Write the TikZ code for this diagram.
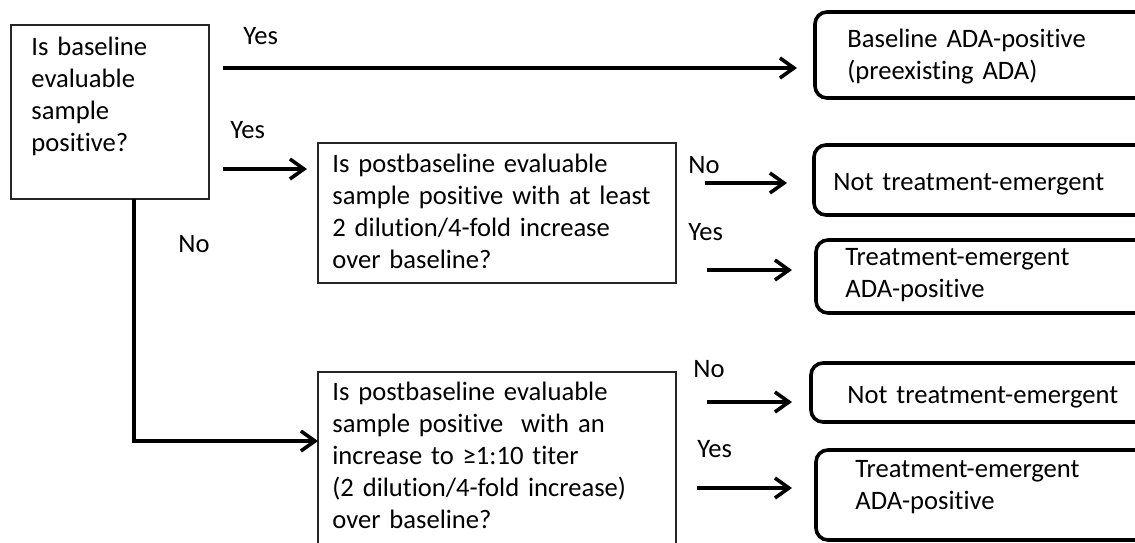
\documentclass[tikz,border=0pt]{standalone}
\usepackage{fontspec}
\setmainfont{Carlito}[Ligatures=NoCommon]
\usetikzlibrary{arrows.meta}
\begin{document}
\begin{tikzpicture}[x=0.5pt,y=-0.5pt,
  qbox/.style={draw=black!85, line width=0.85pt, inner sep=0pt, outer sep=0pt, anchor=north west},
  rbox/.style={draw=black, line width=1.8pt, rounded corners=6pt, inner sep=0pt, outer sep=0pt, anchor=north west},
  txt/.style={anchor=base west, inner sep=0pt, text width=220pt, align=left, font=\fontsize{13.3}{16}\selectfont},
  lbl/.style={anchor=base west, inner sep=0pt, font=\fontsize{13.3}{16}\selectfont},
  arr/.style={line width=1.8pt, -{Straight Barb[length=7pt,width=10pt]}}]
\clip (0,0) rectangle (1135,542);
\fill[white] (0,0) rectangle (1135,542);
% question boxes
\node[qbox, minimum width=99pt, minimum height=87pt] (b1) at (11,25) {};
\node[qbox, minimum width=179pt, minimum height=70pt] (b2) at (318,143) {};
\node[qbox, minimum width=179pt, minimum height=100pt] (b3) at (318,372) {};
% result boxes
\node[rbox, minimum width=170pt, minimum height=43pt] (r1) at (815,12) {};
\node[rbox, minimum width=170pt, minimum height=35pt] (r2) at (814,145) {};
\node[rbox, minimum width=170pt, minimum height=36.5pt] (r3) at (816,240) {};
\node[rbox, minimum width=170pt, minimum height=29.5pt] (r4) at (811,363) {};
\node[rbox, minimum width=170pt, minimum height=45pt] (r5) at (816,450) {};
% texts
\node[txt] (t1) at (31,55) {Is baseline\\evaluable\\sample\\positive?};
\node[txt] (t2) at (332,172) {Is postbaseline evaluable\\sample positive with at least\\2 dilution/4-fold increase\\over baseline?};
\node[txt] (t3) at (332,400) {Is postbaseline evaluable\\sample positive\ \ with an\\increase to ≥1:10 titer\\(2 dilution/4-fold increase)\\over baseline?};
\node[txt] (tr1) at (847,47) {Baseline ADA-positive\\(preexisting ADA)};
\node[txt] (tr2) at (833,190) {Not treatment-emergent};
\node[txt] (tr3) at (845,265) {Treatment-emergent\\ADA-positive};
\node[txt] (tr4) at (847,403) {Not treatment-emergent};
\node[txt] (tr5) at (855,477) {Treatment-emergent\\ADA-positive};
% labels
\node[lbl] (l1) at (243,44) {Yes};
\node[lbl] (l2) at (230,138) {Yes};
\node[lbl] (l3) at (178,252) {No};
\node[lbl] (l4) at (688,173) {No};
\node[lbl] (l5) at (688,240) {Yes};
\node[lbl] (l6) at (693,377) {No};
\node[lbl] (l7) at (697,457) {Yes};
% connectors
\coordinate (s1) at (223,68);
\coordinate (s2) at (223,169);
\coordinate (d1) at (134,199);
\coordinate (e3) at (318,441);
\coordinate (n1) at (705,183);
\coordinate (y1) at (707,270);
\coordinate (n2) at (707,402);
\coordinate (y2) at (697,488);
\draw[arr, shorten >=9pt] (s1) -- (s1 -| r1.west);
\draw[arr, shorten >=5.5pt] (s2) -- (s2 -| b2.west);
\draw[arr] (d1) |- (e3);
\draw[arr, shorten >=13.5pt] (n1) -- (n1 -| r2.west);
\draw[arr, shorten >=12pt] (y1) -- (y1 -| r3.west);
\draw[arr, shorten >=9.5pt] (n2) -- (n2 -| r4.west);
\draw[arr, shorten >=12pt] (y2) -- (y2 -| r5.west);
\end{tikzpicture}
\end{document}
